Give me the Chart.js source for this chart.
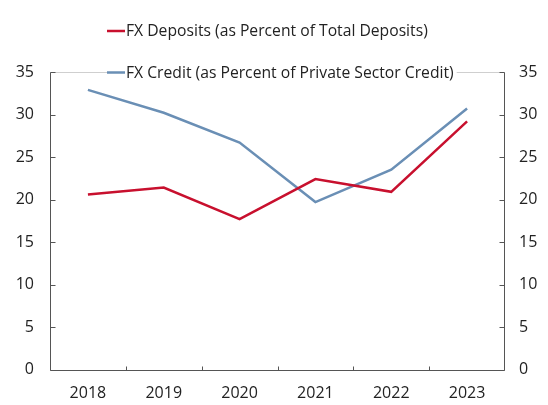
<!DOCTYPE html>
<html lang="en">
<head>
<meta charset="UTF-8">
<title>FX Deposits and FX Credit</title>
<style>
  html, body { margin: 0; padding: 0; background: #fff; }
</style>
</head>
<body>
<canvas id="fxChart" width="548" height="405"></canvas>

<script src="https://cdn.jsdelivr.net/npm/chart.js"></script>
<script>
// data
const years = ['2018', '2019', '2020', '2021', '2022', '2023'];
const fxDeposits = [20.6, 21.4, 17.7, 22.4, 20.9, 29.2];
const fxCredit = [32.9, 30.2, 26.7, 19.7, 23.5, 30.7];
const depositsLabel = 'FX Deposits (as Percent of Total Deposits)';
const creditLabel = 'FX Credit (as Percent of Private Sector Credit)';
const yMin = 0, yMax = 35, yStep = 5;

const axisColor = '#555';
const textColor = '#222';
const fontFamily = '"Open Sans", sans-serif';

// axis frame: dark left/right/bottom lines, light top line, short inward ticks
const frameTicks = {
    id: 'frameTicks',
    beforeDatasetsDraw(chart) {
        const { ctx, scales } = chart;
        const { x, y, y2 } = scales;
        const left = Math.round(y.right) + 0.5;
        const right = Math.round(y2.left) - 0.5;
        const top = Math.round(y.getPixelForValue(yMax)) + 0.5;
        const bottom = Math.round(y.getPixelForValue(yMin)) + 0.5;
        ctx.save();
        ctx.lineWidth = 1;
        ctx.strokeStyle = '#cfcfcf';
        ctx.beginPath();
        ctx.moveTo(left, top);
        ctx.lineTo(right, top);
        ctx.stroke();

        ctx.strokeStyle = axisColor;
        ctx.beginPath();
        ctx.moveTo(left, top);
        ctx.lineTo(left, bottom);
        ctx.lineTo(right, bottom);
        ctx.lineTo(right, top);
        y.ticks.forEach(t => {
            const py = Math.round(y.getPixelForValue(t.value)) + 0.5;
            ctx.moveTo(left, py);
            ctx.lineTo(left + 5, py);
        });
        y2.ticks.forEach(t => {
            const py = Math.round(y2.getPixelForValue(t.value)) + 0.5;
            ctx.moveTo(right, py);
            ctx.lineTo(right - 5, py);
        });
        for (let i = 1; i < years.length; i++) {
            const px = Math.round((x.getPixelForValue(i - 1) + x.getPixelForValue(i)) / 2) + 0.5;
            ctx.moveTo(px, bottom);
            ctx.lineTo(px, bottom - 4);
        }
        ctx.stroke();
        ctx.restore();
    }
};

// two-row legend, second row sits on the top edge of the plot
const stackedLegend = {
    id: 'stackedLegend',
    afterDraw(chart) {
        const { ctx, scales } = chart;
        const rows = [31, Math.round(scales.y.getPixelForValue(yMax)) + 0.5];
        const x0 = 107;
        ctx.save();
        ctx.font = '15.7px ' + fontFamily;
        ctx.textBaseline = 'middle';
        chart.data.datasets.forEach((ds, i) => {
            const yy = rows[i];
            const w = ctx.measureText(ds.label).width;
            ctx.fillStyle = '#fff';
            ctx.fillRect(x0, yy - 10, 22 + w, 20);
            ctx.strokeStyle = ds.borderColor;
            ctx.lineWidth = 2.5;
            ctx.beginPath();
            ctx.moveTo(x0, yy);
            ctx.lineTo(x0 + 18, yy);
            ctx.stroke();
            ctx.fillStyle = textColor;
            ctx.fillText(ds.label, x0 + 19, yy + 1);
        });
        ctx.restore();
    }
};

const tickFont = { family: fontFamily, size: 16 };
const noGrid = { display: false, drawTicks: false, drawOnChartArea: false };

new Chart(document.getElementById('fxChart'), {
    type: 'line',
    data: {
        labels: years,
        datasets: [
            {
                label: depositsLabel,
                data: fxDeposits,
                borderColor: '#c8102e',
                borderWidth: 2.5,
                pointRadius: 0,
                tension: 0,
                yAxisID: 'y'
            },
            {
                label: creditLabel,
                data: fxCredit,
                borderColor: '#6a8fb5',
                borderWidth: 2.5,
                pointRadius: 0,
                tension: 0,
                yAxisID: 'y'
            }
        ]
    },
    options: {
        responsive: false,
        animation: false,
        layout: { padding: { top: 72 } },
        plugins: {
            legend: { display: false },
            tooltip: { enabled: false }
        },
        scales: {
            x: {
                offset: true,
                grid: noGrid,
                border: { display: false },
                ticks: { color: textColor, font: tickFont, padding: 14, maxRotation: 0 },
                afterFit: s => { s.height = 35.5; }
            },
            y: {
                position: 'left',
                min: yMin,
                max: yMax,
                grid: noGrid,
                border: { display: false },
                ticks: { stepSize: yStep, color: textColor, font: tickFont, padding: 16 },
                afterFit: s => { s.width = 50; }
            },
            y2: {
                position: 'right',
                min: yMin,
                max: yMax,
                grid: noGrid,
                border: { display: false },
                ticks: { stepSize: yStep, color: textColor, font: tickFont, padding: 14 },
                afterFit: s => { s.width = 43; }
            }
        }
    },
    plugins: [frameTicks, stackedLegend]
});
</script>
</body>
</html>
